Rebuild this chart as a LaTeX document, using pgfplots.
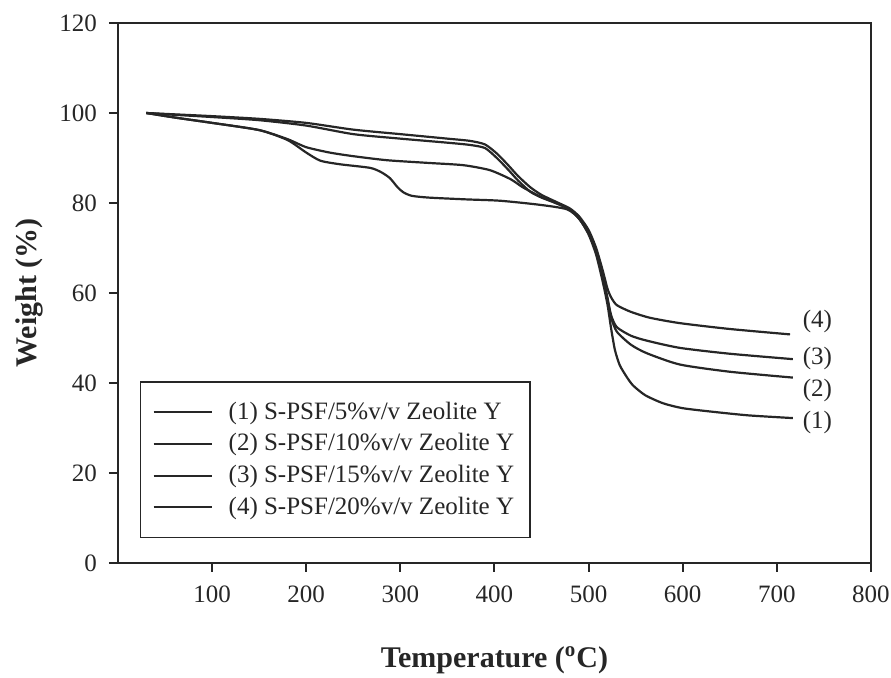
\documentclass[border=0pt]{standalone}
\usepackage{fontspec}
\setmainfont{Liberation Serif}
\usepackage{pgfplots}
\pgfplotsset{compat=1.18}
\begin{document}
\begin{tikzpicture}
\begin{axis}[
  at={(0,0)}, anchor=south west,
  scale only axis, width=376.5pt, height=270pt,
  xmin=0, xmax=800, ymin=0, ymax=120,
  xtick={100,200,...,800}, ytick={0,20,...,120},
  axis line style={line width=1pt, black!85},
  tick style={line width=1pt, black!85},
  tick align=outside, tick pos=left, major tick length=4.5pt,
  /pgf/number format/assume math mode=true,
  ticklabel style={font=\fontsize{12.5}{15}\selectfont, text=black!85},
  xticklabel style={yshift=-3.5pt},
  yticklabel style={xshift=-2.5pt},
  xlabel={\textbf{Temperature (\textsuperscript{o}C)}},
  ylabel={\textbf{Weight (\%)}},
  label style={font=\fontsize{15}{18}\selectfont, text=black!85},
  xlabel style={at={(axis description cs:0.5,-0.18)}, anchor=center},
  ylabel style={at={(axis description cs:-0.117,0.5)}, anchor=center},
  legend style={at={(axis cs:23.4,40.4)}, anchor=north west, draw=black!85, line width=0.7pt,
    font=\fontsize{12.5}{15}\selectfont, text=black!85, inner xsep=6pt, inner ysep=8pt,
    row sep=1.7pt},
  legend cell align=left,
  legend image code/.code={\draw[black!85, line width=1pt] (0pt,0pt) -- (29pt,0pt);},
]
\addplot[black!85, line width=1.1pt, smooth, tension=0.4] coordinates {(30,100)(60,99)(100,97.8)(150,96.2)(180,94)(200,91.2)(215,89.4)(236,88.6)(268,87.8)(280,86.8)(289,85.5)(297,83.5)(303,82.4)(312,81.6)(330,81.2)(370,80.8)(406,80.5)(448,79.6)(477,78.6)(490,76.5)(500,73)(508,68.5)(515,62.5)(520,57.5)(524,52)(528,47.3)(533,44)(540,41.5)(547,39.5)(560,37.3)(579,35.5)(600,34.4)(632,33.6)(670,32.8)(717,32.2)};
\addlegendentry{\hspace{6pt}(1) S-PSF/5\%v/v Zeolite Y}
\addplot[black!85, line width=1.1pt, smooth, tension=0.4] coordinates {(30,100)(60,99)(100,97.8)(150,96.2)(180,94.2)(200,92.4)(225,91.2)(250,90.4)(286,89.5)(330,88.9)(367,88.4)(395,87.3)(417,85.3)(430,83.5)(448,81.5)(465,80)(480,78.6)(490,76.5)(500,73.2)(508,69)(515,63.5)(520,58.5)(524,54.5)(530,51.4)(545,48.5)(562,46.6)(597,44.1)(650,42.5)(717,41.2)};
\addlegendentry{\hspace{6pt}(2) S-PSF/10\%v/v Zeolite Y}
\addplot[black!85, line width=1.1pt, smooth, tension=0.4] coordinates {(30,100)(60,99.6)(100,99.1)(150,98.4)(200,97.2)(250,95.3)(300,94.3)(350,93.4)(374,92.9)(390,92.2)(403,89.9)(415,87.3)(425,85)(438,82.5)(450,81.2)(465,80)(480,78.6)(490,76.5)(500,73.5)(508,69.5)(515,64)(520,59)(524,55)(530,52.4)(545,50.5)(562,49.4)(597,47.8)(650,46.5)(717,45.3)};
\addlegendentry{\hspace{6pt}(3) S-PSF/15\%v/v Zeolite Y}
\addplot[black!85, line width=1.1pt, smooth, tension=0.4] coordinates {(30,100)(60,99.7)(100,99.3)(150,98.7)(200,97.8)(250,96.3)(300,95.3)(350,94.3)(374,93.8)(390,93)(403,90.9)(415,88.3)(425,86)(438,83.5)(450,81.8)(465,80.3)(480,78.8)(490,77)(500,74)(508,70)(515,65)(520,61)(524,59)(530,57.3)(545,55.8)(565,54.5)(597,53.3)(650,52)(714,50.8)};
\addlegendentry{\hspace{6pt}(4) S-PSF/20\%v/v Zeolite Y}
\node[font=\fontsize{12.5}{15}\selectfont, text=black!85] at (axis cs:743,53.6) {(4)};
\node[font=\fontsize{12.5}{15}\selectfont, text=black!85] at (axis cs:743,45.5) {(3)};
\node[font=\fontsize{12.5}{15}\selectfont, text=black!85] at (axis cs:743,38.4) {(2)};
\node[font=\fontsize{12.5}{15}\selectfont, text=black!85] at (axis cs:743,31.3) {(1)};
\end{axis}
\pgfresetboundingbox
\path[use as bounding box] (-59pt,-57.5pt) rectangle (386.5pt,281.5pt);
\end{tikzpicture}
\end{document}
